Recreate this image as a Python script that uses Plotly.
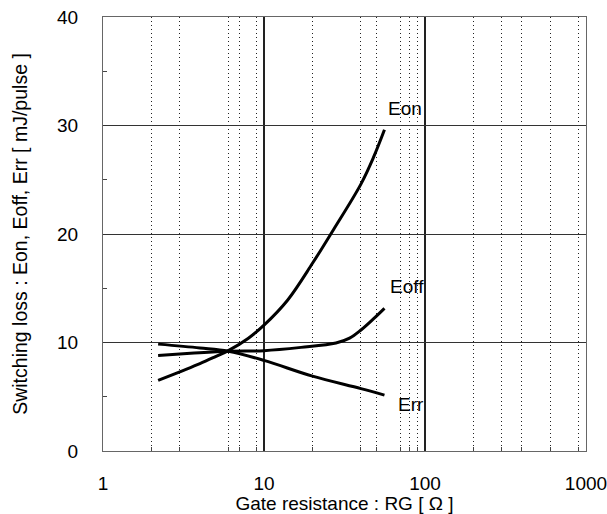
import math
import plotly.graph_objects as go

# Data
rg_eon = [2.2, 3, 4, 5, 6, 8, 10, 14, 20, 27, 40, 48, 56]
eon = [6.5, 7.3, 8.05, 8.7, 9.25, 10.4, 11.6, 13.9, 17.3, 20.4, 24.6, 27.1, 29.6]

rg_eoff = [2.2, 3.5, 6, 10, 17, 28, 34, 40, 48, 56]
eoff = [8.8, 9.0, 9.2, 9.25, 9.55, 9.95, 10.4, 11.15, 12.2, 13.15]

rg_err = [2.2, 4, 6, 10, 20, 40, 56]
err = [9.85, 9.5, 9.2, 8.35, 6.9, 5.75, 5.15]

x_tick_vals = [1, 10, 100, 1000]
x_tick_text = ["1", "10", "100", "1000"]
y_tick_vals = [0, 10, 20, 30, 40]
x_minor_grid = [2, 3, 6, 7, 9, 20, 40, 50, 70, 80, 90, 200, 300, 400, 600, 900]
y_minor_ticks = [5, 15, 25, 35]

labels = ["Eon", "Eoff", "Err"]
label_x = [75, 77, 82]
label_y = [31.6, 15.2, 4.3]

FONT = "Liberation Sans, Arial, sans-serif"

fig = go.Figure()
for xs, ys in [(rg_eon, eon), (rg_eoff, eoff), (rg_err, err)]:
    fig.add_trace(go.Scatter(x=xs, y=ys, mode="lines",
                             line=dict(color="black", width=3, shape="spline", smoothing=1.0),
                             showlegend=False, hoverinfo="skip"))

for t, lx, ly in zip(labels, label_x, label_y):
    # annotation x on a log axis is given in log10 units
    fig.add_annotation(x=math.log10(lx), y=ly, xref="x", yref="y", text=t, showarrow=False,
                       font=dict(family=FONT, size=19, color="black"))

fig.update_layout(
    width=607, height=514,
    margin=dict(l=103, r=21, t=17, b=63),
    paper_bgcolor="white", plot_bgcolor="white",
    font=dict(family=FONT, size=19, color="black"),
)

fig.update_xaxes(
    type="log", range=[0, 3], automargin=False,
    tickmode="array", tickvals=x_tick_vals, ticktext=x_tick_text,
    ticklabeloverflow="allow",
    showgrid=True, gridcolor="#222", gridwidth=1.5,
    showline=True, linecolor="#666", linewidth=1, mirror=True,
    ticks="", ticklabelstandoff=15,
    tickfont=dict(size=19),
    zeroline=False,
    minor=dict(tickmode="array", tickvals=x_minor_grid, showgrid=True, griddash="1px,3px",
               gridcolor="#222", gridwidth=1, ticks="inside", ticklen=4, tickcolor="#444"),
    title=dict(text="Gate resistance : RG [ Ω ]", font=dict(size=19), standoff=22),
)

fig.update_yaxes(
    range=[0, 40], automargin=False,
    tickmode="array", tickvals=y_tick_vals,
    showgrid=True, gridcolor="#333", gridwidth=1,
    showline=True, linecolor="#666", linewidth=1, mirror=True,
    ticks="", ticklabelstandoff=20,
    tickfont=dict(size=19),
    zeroline=False,
    minor=dict(tickmode="array", tickvals=y_minor_ticks, showgrid=False,
               ticks="inside", ticklen=4, tickcolor="#444"),
    title=dict(text="Switching loss : Eon, Eoff, Err [ mJ/pulse ]", font=dict(size=19.5), standoff=24),
)

fig.write_html("out.html")
